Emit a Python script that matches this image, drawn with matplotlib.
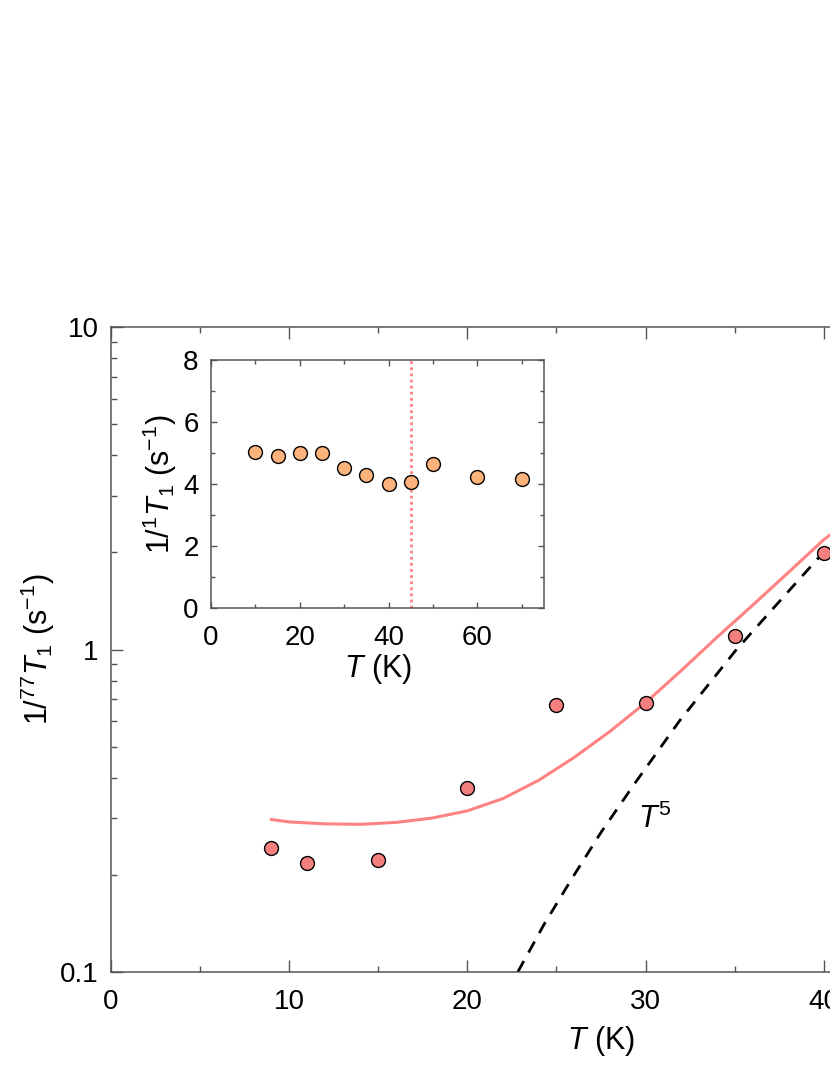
import matplotlib
matplotlib.use("Agg")
from matplotlib import pyplot as plt
from matplotlib.ticker import MultipleLocator, FixedLocator, LogLocator, NullFormatter

plt.rcParams["font.family"] = "Liberation Sans"
plt.rcParams["mathtext.fontset"] = "custom"
plt.rcParams["mathtext.rm"] = "Liberation Sans"
plt.rcParams["mathtext.it"] = "Liberation Sans:italic"

# main panel: 77Se relaxation rate
temp_main = [9, 11, 15, 20, 25, 30, 35, 40]
rate_main = [0.243, 0.217, 0.222, 0.371, 0.674, 0.684, 1.10, 1.99]

# fit curve
temp_fit = [9, 10, 12, 14, 16, 18, 20, 22, 24, 26, 28, 30, 32, 34, 36, 38, 40, 40.6]
rate_fit = [0.297, 0.292, 0.288, 0.287, 0.291, 0.300, 0.316, 0.345, 0.393, 0.463,
            0.557, 0.684, 0.86, 1.09, 1.37, 1.73, 2.19, 2.32]

# T^5 guide
temp_pow = [22.83, 24.32, 25.92, 27.52, 29.39, 31.9, 35.05, 37.76, 40.26, 40.6]
rate_pow = [0.100, 0.141, 0.197, 0.272, 0.384, 0.600, 0.992, 1.46, 2.08, 2.15]

# inset: 1H relaxation rate
temp_inset = [10, 15, 20, 25, 30, 35, 40, 45, 50, 60, 70]
rate_inset = [5.03, 4.91, 5.01, 4.99, 4.53, 4.30, 4.00, 4.06, 4.64, 4.21, 4.15]
t_mark = 45

red_pt = "#F47F7F"
red_line = "#FF8282"
orange_pt = "#FDB27C"
spine_col = "#555555"


def style_axes(ax, major, minor):
    for s in ax.spines.values():
        s.set_color(spine_col)
        s.set_linewidth(1.1)
    ax.tick_params(which="both", direction="in", top=True, right=True,
                   color=spine_col, width=1.0, labelsize=20)
    ax.tick_params(which="major", length=major)
    ax.tick_params(which="minor", length=minor)


fig = plt.figure(figsize=(8.3, 10.75), dpi=100)
ax = fig.add_axes([111 / 830, 1 - 972 / 1075, 980 / 830, 645 / 1075])

ax.plot(temp_fit, rate_fit, color=red_line, lw=2.2, zorder=2)
ax.plot(temp_pow, rate_pow, color="black", lw=2.0, linestyle=(0, (4.5, 3.5)), zorder=2)
ax.plot(temp_main, rate_main, linestyle="", marker="o", markersize=10,
        markerfacecolor=red_pt, markeredgecolor="black", markeredgewidth=1.0, zorder=3)
ax.text(29.6, 0.28, "$T^5$", fontsize=22, ha="left", va="baseline")

ax.set_yscale("log")
ax.set_xlim(0, 55)
ax.set_ylim(0.1, 10)
ax.xaxis.set_major_locator(MultipleLocator(10))
ax.xaxis.set_minor_locator(MultipleLocator(5))
ax.yaxis.set_major_locator(FixedLocator([0.1, 1, 10]))
ax.yaxis.set_minor_locator(LogLocator(base=10, subs=range(2, 10)))
ax.yaxis.set_minor_formatter(NullFormatter())
ax.set_yticklabels(["0.1", "1", "10"])
style_axes(ax, 8.5, 4.3)
ax.tick_params(axis="x", pad=12)
ax.tick_params(axis="y", pad=9)
ax.set_xlabel("$T$ (K)", fontsize=22, labelpad=7)
ax.set_ylabel("1/$^{77}T_1$ (s$^{-1}$)", fontsize=22, labelpad=2)

ins = fig.add_axes([211 / 830, 1 - 608 / 1075, 333 / 830, 248 / 1075])
ins.axvline(t_mark, color=red_line, lw=2.0, linestyle=(0, (1, 1.2)), zorder=1)
ins.plot(temp_inset, rate_inset, linestyle="", marker="o", markersize=10,
         markerfacecolor=orange_pt, markeredgecolor="black", markeredgewidth=1.0, zorder=3)
ins.set_xlim(0, 75)
ins.set_ylim(0, 8)
ins.xaxis.set_major_locator(MultipleLocator(20))
ins.xaxis.set_minor_locator(MultipleLocator(10))
ins.yaxis.set_major_locator(MultipleLocator(2))
ins.yaxis.set_minor_locator(MultipleLocator(1))
style_axes(ins, 4.5, 3)
ins.tick_params(axis="x", pad=12)
ins.tick_params(axis="y", pad=9)
ins.set_xlabel("$T$ (K)", fontsize=22, labelpad=1)
ins.set_ylabel("1/$^{1}T_1$ (s$^{-1}$)", fontsize=22, labelpad=3)

fig.savefig("out.png", dpi=100)
